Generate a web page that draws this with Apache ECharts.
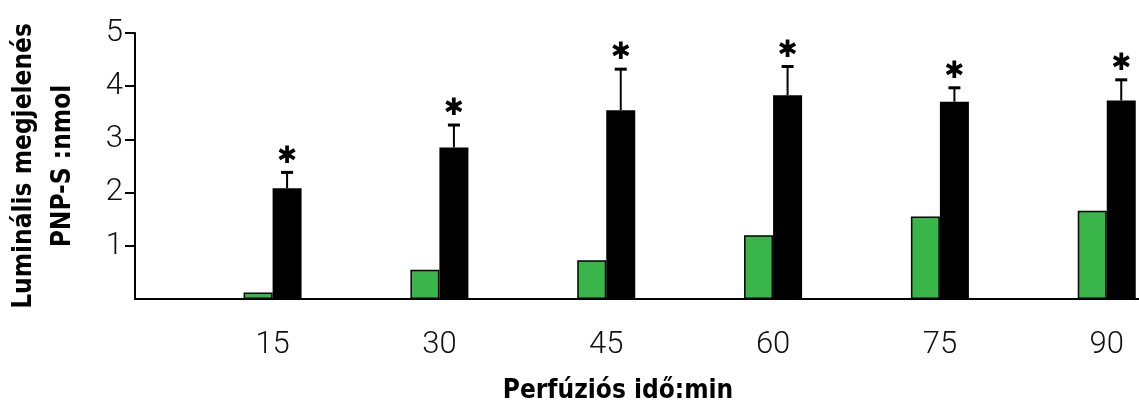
<!DOCTYPE html>
<html>
<head>
<meta charset="utf-8">
<script src="https://cdn.jsdelivr.net/npm/echarts@6/dist/echarts.min.js"></script>
<style>
  html, body { margin: 0; padding: 0; background: #fff; }
  #bar { width: 1139px; height: 406px; }
</style>
</head>
<body>
<div id="bar"></div>
<script>
// perfusion time (min)
const times = [15, 30, 45, 60, 75, 90];
// luminal PNP-S, nmol
const greenValues = [0.12, 0.55, 0.73, 1.2, 1.55, 1.66];
const blackValues = [2.08, 2.85, 3.55, 3.83, 3.71, 3.73];
// top of error bar for black series
const blackErrTop = [2.38, 3.27, 4.32, 4.37, 3.97, 4.12];
const yTicks = [1, 2, 3, 4, 5];

const chart = echarts.init(document.getElementById("bar"));

const thinFont = "Roboto, 'DejaVu Sans', sans-serif";
const narrowBold = "'Liberation Sans Narrow', 'DejaVu Sans Condensed', sans-serif";
const barW = 29;

chart.setOption({
  animation: false,
  grid: { left: 135, right: 0, top: 33, bottom: 107, outerBoundsMode: "none" },
  xAxis: {
    type: "value",
    min: 2.63,
    max: 92.9,
    name: "Perfúziós idő:min",
    nameLocation: "middle",
    nameGap: 79,
    nameTextStyle: {
      fontFamily: narrowBold,
      fontWeight: "bold",
      fontSize: 26,
      color: "#000",
      padding: [0, 38, 0, 0]
    },
    axisLine: { lineStyle: { color: "#000", width: 2 } },
    axisTick: { show: false },
    splitLine: { show: false },
    axisLabel: {
      customValues: times,
      margin: 31,
      fontFamily: thinFont,
      fontWeight: 300,
      fontSize: 31,
      color: "#111"
    }
  },
  yAxis: {
    type: "value",
    min: 0,
    max: 5,
    interval: 1,
    name: "Luminális megjelenés\nPNP-S :nmol",
    nameLocation: "middle",
    nameRotate: 90,
    nameGap: 52,
    nameTextStyle: {
      fontFamily: narrowBold,
      fontWeight: "bold",
      fontSize: 26,
      lineHeight: 39,
      color: "#000"
    },
    axisLine: { show: true, lineStyle: { color: "#000", width: 2 } },
    axisTick: { show: true, customValues: yTicks, length: 10, lineStyle: { color: "#000", width: 2 } },
    splitLine: { show: false },
    axisLabel: {
      customValues: yTicks,
      margin: 12,
      fontFamily: thinFont,
      fontWeight: 300,
      fontSize: 31,
      color: "#111"
    }
  },
  series: [
    {
      name: "kontroll",
      type: "bar",
      barWidth: barW,
      barGap: "0%",
      data: times.map((t, i) => [t, greenValues[i]]),
      itemStyle: { color: "#3ab54a", borderColor: "#000", borderWidth: 1.5 }
    },
    {
      name: "kezelt",
      type: "bar",
      barWidth: barW,
      barGap: "0%",
      data: times.map((t, i) => [t, blackValues[i]]),
      itemStyle: { color: "#000" }
    },
    {
      name: "hiba",
      type: "custom",
      data: times.map((t, i) => [t, blackValues[i], blackErrTop[i]]),
      renderItem: function (params, api) {
        const low = api.coord([api.value(0), api.value(1)]);
        const high = api.coord([api.value(0), api.value(2)]);
        const x = low[0] + barW / 2;
        return {
          type: "group",
          children: [
            {
              type: "line",
              shape: { x1: x, y1: low[1], x2: x, y2: high[1] },
              style: { stroke: "#000", lineWidth: 2 }
            },
            {
              type: "line",
              shape: { x1: x - 6, y1: high[1], x2: x + 6, y2: high[1] },
              style: { stroke: "#000", lineWidth: 3 }
            },
            {
              type: "text",
              style: {
                text: "✱",
                x: x,
                y: high[1] - 16,
                align: "center",
                verticalAlign: "middle",
                fontSize: 24,
                fontFamily: "'DejaVu Sans', sans-serif",
                fill: "#000"
              }
            }
          ]
        };
      },
      z: 3
    }
  ]
});
</script>
</body>
</html>
